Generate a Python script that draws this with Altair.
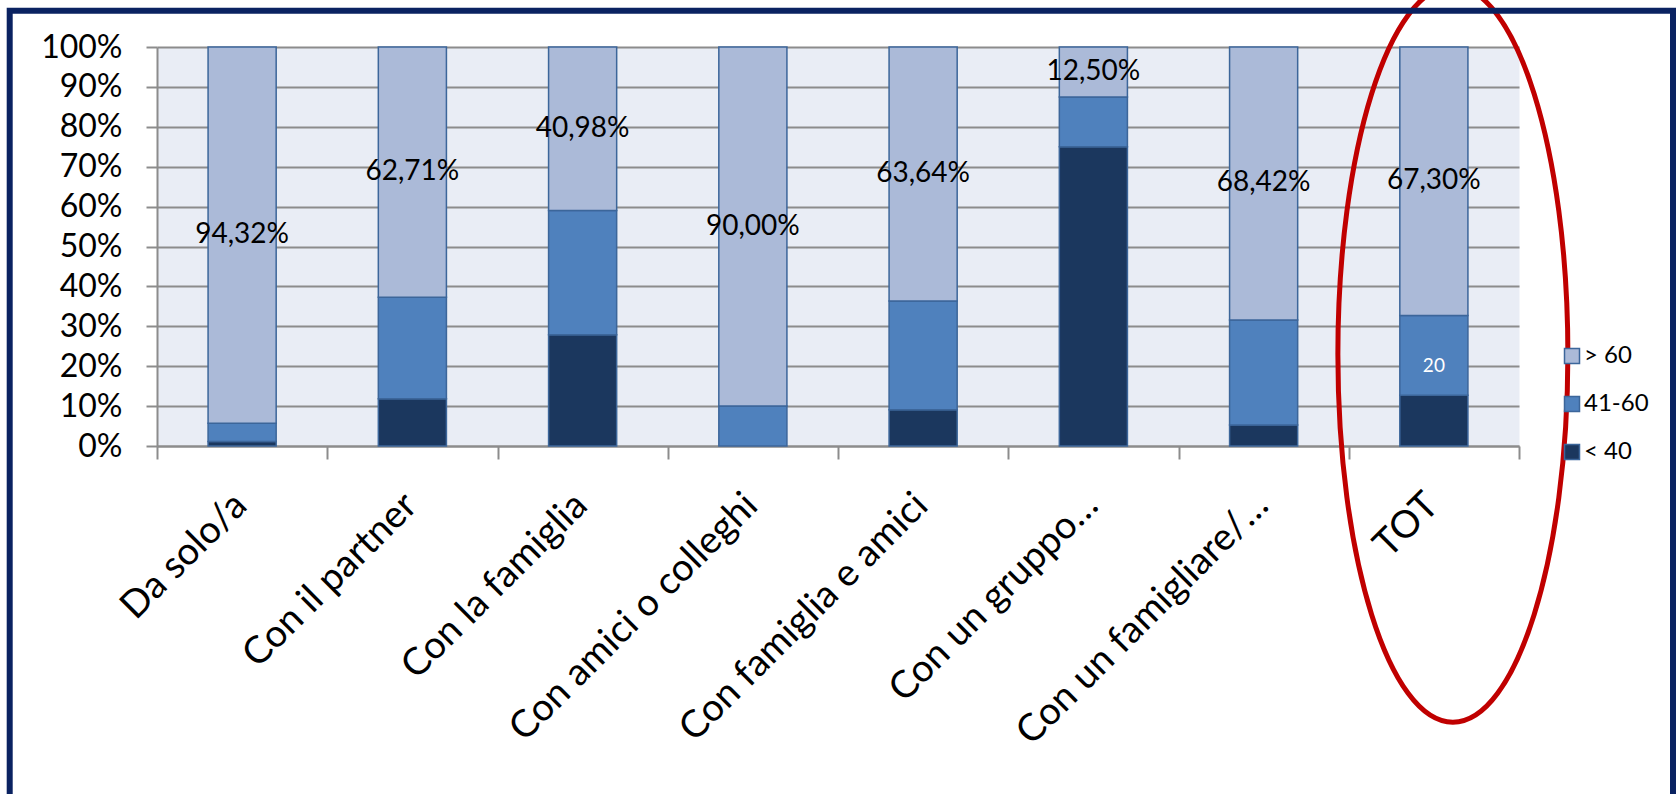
import altair as alt
import pandas as pd

# Categories, age bands and percentage shares per category
categorie = ["Da solo/a", "Con il partner", "Con la famiglia", "Con amici o colleghi",
             "Con famiglia e amici", "Con un gruppo…", "Con un famigliare/…", "TOT"]
fasce = ["> 60", "41-60", "< 40"]
over_60 = [94.32, 62.71, 40.98, 90.00, 63.64, 12.50, 68.42, 67.30]
da_41_a_60 = [4.54, 25.42, 31.15, 10.00, 27.27, 12.50, 26.32, 20.00]
under_40 = [1.14, 11.86, 27.87, 0.00, 9.09, 75.00, 5.26, 12.70]
colori = ["#ABBAD8", "#4F81BD", "#1B375E"]

FONT = "Lato"
BORDO_BARRE = "#3C669A"
GRIGIO = "#8C8C8C"

righe = []
for i, c in enumerate(categorie):
    righe.append({"categoria": c, "fascia": "< 40", "ordine": 0, "valore": under_40[i]})
    righe.append({"categoria": c, "fascia": "41-60", "ordine": 1, "valore": da_41_a_60[i]})
    righe.append({"categoria": c, "fascia": "> 60", "ordine": 2, "valore": over_60[i]})
df = pd.DataFrame(righe)

df_lab = pd.DataFrame({
    "categoria": categorie,
    "over": over_60,
    "testo": [f"{v:.2f}%".replace(".", ",") for v in over_60],
})

df_tot = pd.DataFrame({
    "categoria": ["TOT"],
    "under": [under_40[-1]],
    "mid": [da_41_a_60[-1]],
    "testo": [f"{da_41_a_60[-1]:.0f}"],
})

asse_x = alt.Axis(title=None, labelAngle=-45, labelFont=FONT, labelFontSize=38,
                  labelColor="black", labelLimit=600, tickBand="extent", tickSize=13,
                  tickColor=GRIGIO, tickWidth=2, domainColor=GRIGIO,
                  domainWidth=2, grid=False, labelPadding=27, labelOffset=-15)
scala_x = alt.Scale(paddingInner=0, paddingOuter=0)

asse_y = alt.Axis(title=None, format=".0%", values=[i / 10 for i in range(11)],
                  labelFont=FONT, labelFontSize=32, labelColor="black",
                  labelPadding=24, tickSize=11, tickColor=GRIGIO, tickWidth=2,
                  gridColor=GRIGIO, gridWidth=2, domainColor=GRIGIO, domainWidth=2)
scala_y = alt.Scale(domain=[0, 1])


def xx():
    return alt.X("categoria:N", sort=categorie, scale=scala_x, axis=asse_x)


def yy(campo, **kw):
    return alt.Y(campo, scale=scala_y, axis=asse_y, **kw)


barre = alt.Chart(df).transform_filter("datum.valore > 0").mark_bar(
    stroke=BORDO_BARRE, strokeWidth=1.5, width=alt.RelativeBandSize(0.4)
).encode(
    x=xx(),
    y=yy("valore:Q", stack="normalize"),
    color=alt.Color("fascia:N", scale=alt.Scale(domain=fasce, range=colori),
                    legend=alt.Legend(title=None, orient="none", legendX=1403, legendY=297,
                                      symbolType="square", symbolSize=225,
                                      symbolStrokeColor=BORDO_BARRE, symbolStrokeWidth=1.5,
                                      symbolOpacity=1, labelFont=FONT, labelFontSize=24,
                                      labelColor="black", rowPadding=24, labelOffset=0)),
    order=alt.Order("ordine:Q", sort="ascending"),
)

etichette = alt.Chart(df_lab).transform_calculate(
    pos="1 - datum.over / 200"
).mark_text(font=FONT, fontSize=28, color="black").encode(
    x=xx(),
    y=yy("pos:Q"),
    text="testo:N",
)

etichetta_tot = alt.Chart(df_tot).transform_calculate(
    pos="(datum.under + datum.mid / 2) / 100"
).mark_text(font=FONT, fontSize=19, color="white", dy=11).encode(
    x=xx(),
    y=yy("pos:Q"),
    text="testo:N",
)

# Highlight ellipse around the total column
ellisse = alt.Chart(pd.DataFrame({"categoria": ["TOT"], "centro": [0.23]})).mark_point(
    shape="M0,-1A0.3125,1,0,1,1,0,1A0.3125,1,0,1,1,0,-1Z",
    size=736 * 736, filled=False, stroke="#C00000", strokeWidth=5, opacity=1, xOffset=19
).encode(
    x=xx(),
    y=yy("centro:Q"),
)

# Outer frame around the whole figure
cornice = alt.Chart(pd.DataFrame({"k": [0]})).mark_rect(
    fillOpacity=0, stroke="#0A2261", strokeWidth=6
).encode(
    x=alt.value(-147.3), x2=alt.value(1516), y=alt.value(-36.2), y2=alt.value(800)
)

chart = alt.layer(barre, etichette, etichetta_tot, ellisse, cornice).properties(
    width=1362, height=399,
    autosize=alt.AutoSizeParams(type="none"),
    padding={"left": 157, "top": 47, "right": 158, "bottom": 348},
    background="white",
).configure_view(fill="#E9EDF5", stroke="transparent")

chart.save("out.html", embed_options={"renderer": "svg", "actions": False})
